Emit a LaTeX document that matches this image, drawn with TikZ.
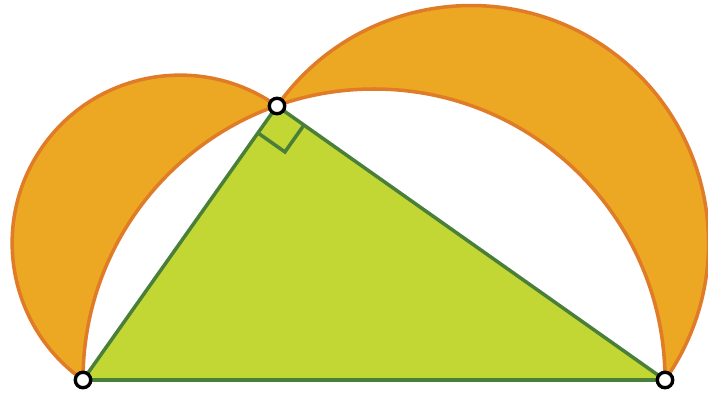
\documentclass[tikz,border=0pt]{standalone}
\usetikzlibrary{calc}
\definecolor{luneFill}{HTML}{EDA823}
\definecolor{luneEdge}{HTML}{E07B27}
\definecolor{triFill}{HTML}{C2D733}
\definecolor{triEdge}{HTML}{4A7F3A}
\tikzset{
  lune/.style={fill=luneFill, draw=luneEdge, line width=2.5pt},
  tri/.style={fill=triFill, draw=triEdge, line width=2.5pt, line join=round},
  vertex/.style={circle, draw=black, fill=white, line width=2.4pt, inner sep=0pt, minimum size=11pt}
}
\begin{document}
\begin{tikzpicture}[x=0.025cm, y=0.025cm]
\useasboundingbox (0,0) rectangle (708,396);
\coordinate (A) at (83,16);
\coordinate (B) at (665,16);
\coordinate (C) at (277,290);
% semicircles on the legs
\fill[luneFill] (C) arc[start angle=54.70, end angle=234.70, radius=167.86] -- cycle;
\fill[luneFill] (B) arc[start angle=-35.23, end angle=144.77, radius=237.49] -- cycle;
% semicircle on the hypotenuse
\fill[white] (B) arc[start angle=0, end angle=180, radius=291] -- cycle;
\draw[lune, fill=none] (C) arc[start angle=54.70, end angle=234.70, radius=167.86];
\draw[lune, fill=none] (B) arc[start angle=-35.23, end angle=144.77, radius=237.49];
\draw[lune, fill=none] (B) arc[start angle=0, end angle=180, radius=291];
% triangle
\draw[tri] (A) -- (B) -- (C) -- cycle;
\draw[draw=triEdge, line width=2.5pt] ($(C)!0.825cm!(A)$) -- ++(27,-19) -- ($(C)!0.825cm!(B)$);
\node[vertex] (a) at (A) {};
\node[vertex] (b) at (B) {};
\node[vertex] (c) at (C) {};
\end{tikzpicture}
\end{document}
